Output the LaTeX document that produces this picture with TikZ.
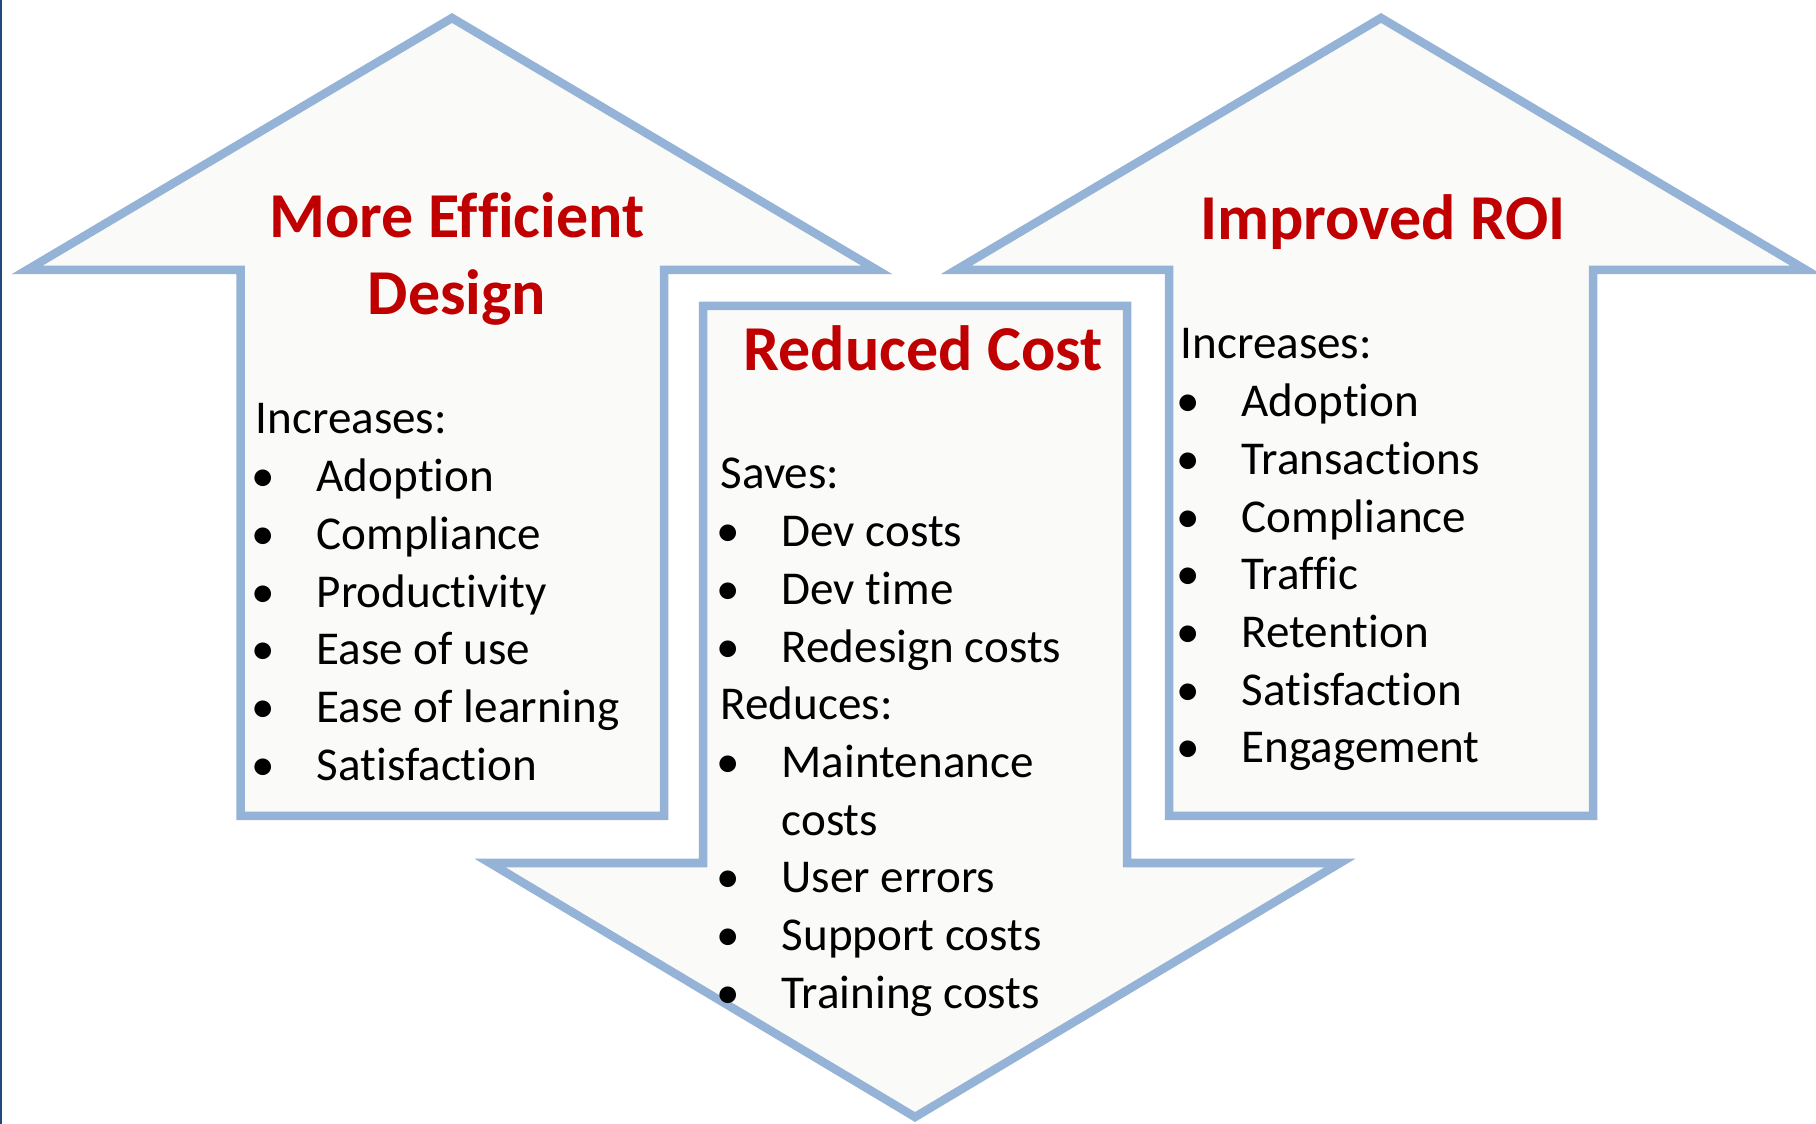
\documentclass[tikz,border=0pt]{standalone}
\usepackage{fontspec}
\setmainfont{Carlito}[Ligatures=NoCommon]
\definecolor{arrowline}{HTML}{95B3D7}
\definecolor{arrowfill}{HTML}{FAFAF8}
\definecolor{titlered}{HTML}{C00000}
\definecolor{edgeblue}{HTML}{1F497D}
\begin{document}
\begin{tikzpicture}[bigarrow/.style={draw=arrowline,fill=arrowfill,line width=0.085cm},
  arrowtitle/.style={font=\fontsize{18.2}{22}\selectfont\bfseries,text=titlered,anchor=base,inner sep=0pt},
  listhead/.style={font=\fontsize{13.4}{16}\selectfont,anchor=base west,inner sep=0pt},
  listitem/.style={listhead,execute at begin node={\makebox[0.61cm][l]{\hspace*{-0.04cm}\textbullet}}},
  listcont/.style={listhead,execute at begin node={\hspace*{0.61cm}}}]
\useasboundingbox (0,0) rectangle (18.16,-11.24);
\fill[white] (0,0) rectangle (18.16,-11.24);
\draw[edgeblue,line width=0.015cm] (0.0075,0) -- (0.0075,-11.24);
% the three arrows
\draw[bigarrow] (4.52,-0.18) -- (8.77,-2.70) -- (6.64,-2.70) -- (6.64,-8.16) -- (2.405,-8.16) -- (2.405,-2.70) -- (0.27,-2.70) -- cycle;
\draw[bigarrow] (13.81,-0.18) -- (18.06,-2.70) -- (15.93,-2.70) -- (15.93,-8.16) -- (11.69,-8.16) -- (11.69,-2.70) -- (9.56,-2.70) -- cycle;
\draw[bigarrow] (7.03,-3.06) -- (11.27,-3.06) -- (11.27,-8.63) -- (13.40,-8.63) -- (9.15,-11.17) -- (4.90,-8.63) -- (7.03,-8.63) -- cycle;
% titles
\node[arrowtitle] (effic1) at (4.57,-2.38) {More Efficient};
\node[arrowtitle] (effic2) at (4.57,-3.15) {Design};
\node[arrowtitle] (cost) at (9.23,-3.71) {Reduced Cost};
\node[arrowtitle] (roi) at (13.83,-2.40) {Improved ROI};
% lists
\node[listhead] (lfthd) at (2.55,-4.34) {Increases:};
\foreach \txt [count=\i] in {Adoption,Compliance,Productivity,Ease of use,Ease of learning,Satisfaction}
  \node[listitem] (lft\i) at (2.55,{-4.34-0.577*\i}) {\txt};
\foreach \sty/\txt [count=\i from 0] in {listhead/Saves:,listitem/Dev costs,listitem/Dev time,listitem/Redesign costs,listhead/Reduces:,listitem/Maintenance,listcont/costs,listitem/User errors,listitem/Support costs,listitem/Training costs}
  \node[\sty] (mid\i) at (7.20,{-4.89-0.577*\i}) {\txt};
\node[listhead] (rgthd) at (11.80,-3.59) {Increases:};
\foreach \txt [count=\i] in {Adoption,Transactions,Compliance,Traffic,Retention,Satisfaction,Engagement}
  \node[listitem] (rgt\i) at (11.80,{-3.59-0.577*\i}) {\txt};
\end{tikzpicture}
\end{document}
